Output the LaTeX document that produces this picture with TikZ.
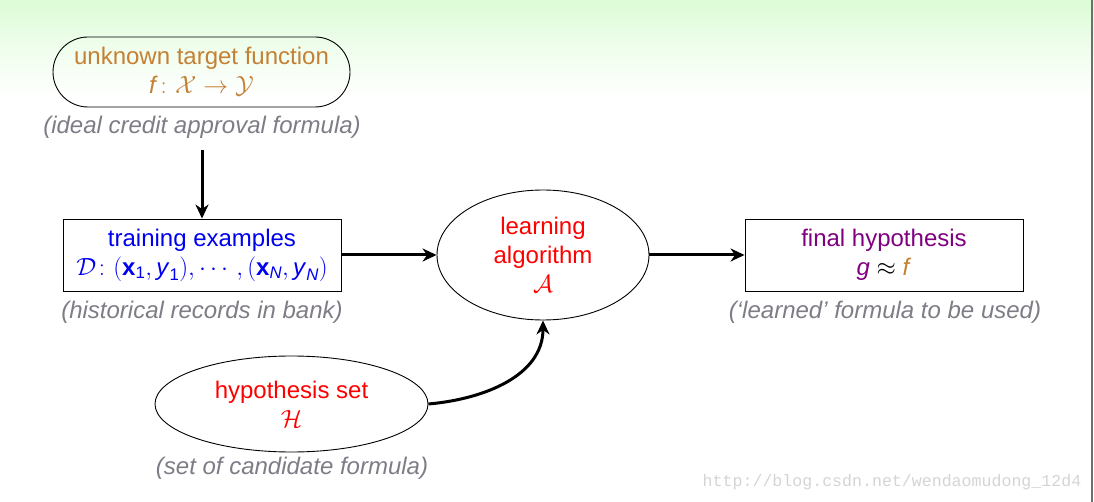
\documentclass[tikz,border=0pt]{standalone}
\usepackage{amsmath}
\usepackage{fontspec}
\setmainfont{Liberation Sans}
\newfontfamily\wmfont{Liberation Mono}
\usetikzlibrary{arrows.meta,shapes.geometric}
\definecolor{tgtorange}{RGB}{196,128,52}
\definecolor{capgray}{RGB}{125,125,135}
\definecolor{dblue}{RGB}{0,0,240}
\definecolor{dpurple}{RGB}{128,0,128}
\definecolor{topgreen}{RGB}{220,252,214}
\definecolor{wmgray}{RGB}{212,212,212}
\definecolor{edgegray}{RGB}{110,110,110}
\begin{document}
\begin{tikzpicture}[x=1pt,y=-1pt,
  txt/.style={font=\fontsize{24}{29}\selectfont, align=center},
  rbox/.style={txt, draw=black, line width=0.9pt, rounded corners=35pt, minimum width=297pt, minimum height=70pt, inner sep=0pt},
  sbox/.style={txt, draw=black, line width=0.9pt, minimum width=278pt, minimum height=72pt, inner sep=0pt},
  ell/.style={txt, draw=black, line width=0.9pt, ellipse, inner sep=0pt},
  caption/.style={font=\fontsize{24}{29}\selectfont\itshape, text=capgray, inner sep=0pt},
  arr/.style={line width=3pt, -{Stealth[length=14pt,width=13pt,inset=4.5pt]}}
]
\useasboundingbox (0,0) rectangle (1094,502);
\fill[top color=topgreen, bottom color=white, middle color=topgreen!45!white] (0,0) rectangle (1094,96);
\draw[edgegray, line width=1.6pt] (1092,0) -- (1092,502);

\node[rbox, text=tgtorange] (target) at (201.5,72)
  {unknown target function\\ $\text{\textit{f}}\colon \mathcal{X}\to\mathcal{Y}$};
\node[caption] (capt) at (202,127) {(ideal credit approval formula)};

\node[sbox, text=dblue] (train) at (202,255)
  {training examples\\ $\mathcal{D}\colon (\text{\textbf{x}}_{\text{1}}, \text{\textit{y}}_{\text{1}}), \cdots, (\text{\textbf{x}}_{\text{\textit{N}}}, \text{\textit{y}}_{\text{\textit{N}}})$};
\node[caption] (capd) at (202,312) {(historical records in bank)};

\node[ell, text=red, minimum width=212pt, minimum height=130pt] (learn) at (543,255)
  {learning\\ algorithm\\ $\mathcal{A}$};

\node[sbox, text=dpurple] (final) at (884,255)
  {final hypothesis\\ \textit{g} {\color{black}$\approx$} {\color{tgtorange}\textit{f}}};
\node[caption] (capf) at (885,312) {(‘learned’ formula to be used)};

\node[ell, text=red, minimum width=273pt, minimum height=96pt] (hyp) at (291.5,404)
  {hypothesis set\\ $\mathcal{H}$};
\node[caption] (caph) at (292,468) {(set of candidate formula)};

\node[font=\wmfont\fontsize{16.6}{20}\selectfont, text=wmgray, inner sep=0pt] (wm) at (892,482)
  {http://blog.csdn.net/wendaomudong\_12d4};

\coordinate (tstart) at (202,150);
\draw[arr] (tstart) -- (train.north);
\draw[arr] (train.east) -- (learn.west);
\draw[arr] (learn.east) -- (final.west);
\draw[arr] (hyp.east) to[out=5,in=-90] (learn.south);
\end{tikzpicture}
\end{document}
